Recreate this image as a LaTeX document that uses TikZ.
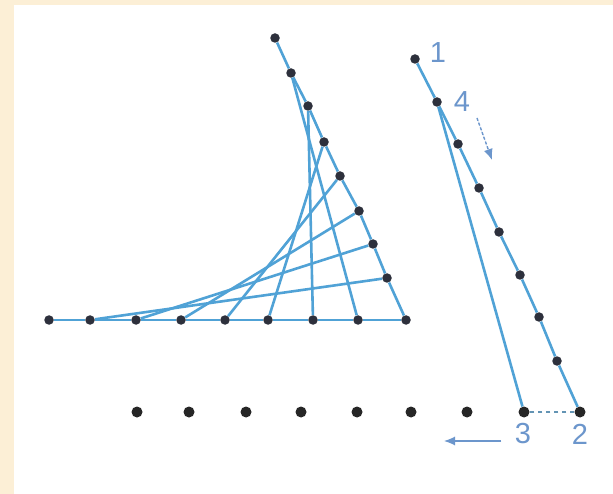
\documentclass[tikz,border=0pt]{standalone}
\usepackage{fontspec}
\setsansfont{Liberation Sans}
\usetikzlibrary{arrows.meta}

\definecolor{paper}{RGB}{252,239,214}
\definecolor{threadblue}{RGB}{80,162,214}
\definecolor{inkblue}{RGB}{108,150,204}
\definecolor{nailgray}{RGB}{45,48,60}

\begin{document}
\begin{tikzpicture}[
    x=1pt, y=-1pt,
    >={Latex[length=11pt, width=9pt]},
    nail/.style={circle, fill=nailgray, minimum size=9.5pt, inner sep=0pt},
    bignail/.style={circle, fill=black!85, minimum size=11pt, inner sep=0pt},
    thread/.style={draw=threadblue, line width=2.6pt},
    numlabel/.style={font=\sffamily\fontsize{29}{29}\selectfont, text=inkblue, inner sep=0pt}
]
  
  % Fondo y marco
  \fill[paper] (0,0) rectangle (613,494);
  \fill[white] (14,5) rectangle (613,494);
  \useasboundingbox (0,0) rectangle (613,494);
  
  % Clavos de la base (figura izquierda)
  \foreach \x [count=\i from 0] in {49,90,136,181,225,268,313,358,406}
    \node[nail] (b\i) at (\x,320) {};
  
  % Clavos del lado inclinado
  \foreach \x/\y [count=\i from 0] in {275/38, 291/73, 308/106, 324/142, 340/176, 359/211, 373/244, 387/278}
    \node[nail] (s\i) at (\x,\y) {};
  
  % Hilos de los bordes
  \foreach \i [evaluate=\i as \j using int(\i+1)] in {0,...,7}
    \draw[thread] (b\i) -- (b\j);
  \foreach \i [evaluate=\i as \j using int(\i+1)] in {0,...,6}
    \draw[thread] (s\i) -- (s\j);
  \draw[thread] (s7) -- (b8);
  
  % Hilos cruzados
  \foreach \i [evaluate=\i as \j using int(8-\i)] in {1,...,7}
    \draw[thread] (b\i) -- (s\j);
  
  % Fila de abajo (figura derecha)
  \foreach \x [count=\i from 0] in {137,189,246,301,357,411,467,524}
    \node[bignail] (p\i) at (\x,412) {};
  
  % Clavos de la diagonal
  \foreach \x/\y [count=\i from 0] in {415/59, 437/102, 458/144, 479/188, 499/232, 520/275, 539/317, 557/361}
    \node[nail] (r\i) at (\x,\y) {};
  \node[bignail] (r8) at (580,412) {};
  
  % Recorrido 1 -> 2 -> 3 -> 4
  \foreach \i [evaluate=\i as \j using int(\i+1)] in {0,...,7}
    \draw[thread] (r\i) -- (r\j);
  \draw[threadblue!60!gray, line width=2.4pt, dash pattern=on 4pt off 4pt] (r8) -- (p7);
  \draw[thread] (p7) -- (r1);
  
  % Numeros
  \node[numlabel] (lab1) at (438,53)  {1};
  \node[numlabel] (lab4) at (462,102) {4};
  \node[numlabel] (lab3) at (523,434) {3};
  \node[numlabel] (lab2) at (580,434) {2};
  
  % Flechas de sentido
  \coordinate (down_a) at (477,118);
  \coordinate (down_b) at (492,160);
  \draw[->, draw=inkblue, fill=inkblue, line width=1.4pt, dash pattern=on 3pt off 2pt] (down_a) -- (down_b);
  \coordinate (left_a) at (501,441);
  \coordinate (left_b) at (444,441);
  \draw[->, draw=inkblue, fill=inkblue, line width=1.2pt] (left_a) -- (left_b);
  
\end{tikzpicture}
\end{document}
